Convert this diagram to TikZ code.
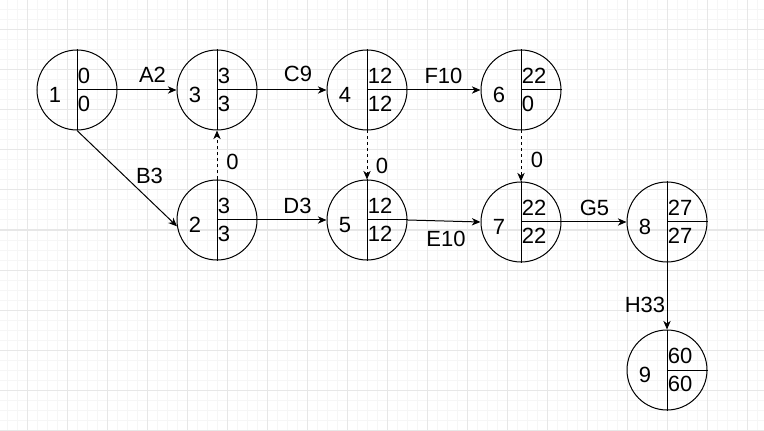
\documentclass[tikz,border=0pt]{standalone}
\usepackage{fontspec}
\setmainfont{Liberation Sans}
\usepackage{tikz}
\usetikzlibrary{arrows.meta, positioning, calc}
\definecolor{gridmajor}{RGB}{231, 231, 231}
\definecolor{gridminor}{RGB}{246, 246, 246}

\tikzset{
    event/.style={circle, draw, line width=0.75pt, minimum size=60pt, inner sep=0pt},
    evtext/.style={inner sep=0pt, font=\fontsize{16.5}{18}\selectfont},
    elabel/.style={inner sep=0pt, font=\fontsize{16.5}{18}\selectfont},
    act/.style={line width=0.75pt, -{Stealth[length=6.5pt, width=5.5pt, inset=2pt]}},
    dummy/.style={act, dash pattern=on 2.25pt off 2.25pt},
}

% event circle: name, position, number, earliest, latest
\newcommand{\evnode}[5]{
    \node[event] (#1) at (#2) {};
    \draw[line width=0.75pt] (#1.north) -- (#1.south);
    \draw[line width=0.75pt] (#1.center) -- (#1.east);
    \node[evtext] (#1-id) at ([shift={(-22,5)}]#1.center) {#3};
    \node[evtext, anchor=west] (#1-es) at ([shift={(0.5,-14.5)}]#1.center) {#4};
    \node[evtext, anchor=west] (#1-ls) at ([shift={(0.5,13.5)}]#1.center) {#5};
}

\begin{document}
\begin{tikzpicture}[x=0.75pt, y=-0.75pt]
            \useasboundingbox (0,0) rectangle (764,431);
            % background grid
            \foreach \gx in {7,17,...,757} \draw[gridminor, line width=0.75pt] (\gx,0) -- (\gx,431);
            \foreach \gy in {0,10,...,430} \draw[gridminor, line width=0.75pt] (0,\gy) -- (764,\gy);
            \foreach \gx in {27,67,...,747} \draw[gridmajor, line width=0.75pt] (\gx,0) -- (\gx,431);
            \foreach \gy in {30,70,...,430} \draw[gridmajor, line width=0.75pt] (0,\gy) -- (764,\gy);

            \evnode{n1}{77,90}{1}{0}{0}
            \evnode{n3}{217,90}{3}{3}{3}
            \evnode{n4}{367,90}{4}{12}{12}
            \evnode{n6}{521,90}{6}{22}{0}
            \evnode{n2}{217,220}{2}{3}{3}
            \evnode{n5}{367,220}{5}{12}{12}
            \evnode{n7}{521,222}{7}{22}{22}
            \evnode{n8}{667,222}{8}{27}{27}
            \evnode{n9}{667,370}{9}{60}{60}

            % activities
            \draw[act] (n1.east) -- (n3.west);
            \draw[act] (n1.south) -- (n2.189);
            \draw[act] (n3.east) -- (n4.west);
            \draw[act] (n4.east) -- (n6.west);
            \draw[act] (n2.east) -- (n5.west);
            \draw[act] (n5.east) -- (n7.west);
            \draw[act] (n7.east) -- (n8.west);
            \draw[act] (n8.south) -- (n9.north);
            \draw[dummy] (n2.north) -- (n3.south);
            \draw[dummy] (n4.south) -- (n5.north);
            \draw[dummy] (n6.south) -- (n7.north);

            \node[elabel] (lA) at (152.5,74.5) {A2};
            \node[elabel] (lB) at (149.5,176) {B3};
            \node[elabel] (lC) at (298,74) {C9};
            \node[elabel] (lD) at (297.5,206) {D3};
            \node[elabel] (lE) at (446,238.5) {E10};
            \node[elabel] (lF) at (443.5,75.5) {F10};
            \node[elabel] (lG) at (594.5,207.5) {G5};
            \node[elabel] (lH) at (645,304.5) {H33};
            \node[elabel] (l23) at (232.5,162) {0};
            \node[elabel] (l45) at (382,166) {0};
            \node[elabel] (l67) at (537,159.5) {0};
\end{tikzpicture}
\end{document}
